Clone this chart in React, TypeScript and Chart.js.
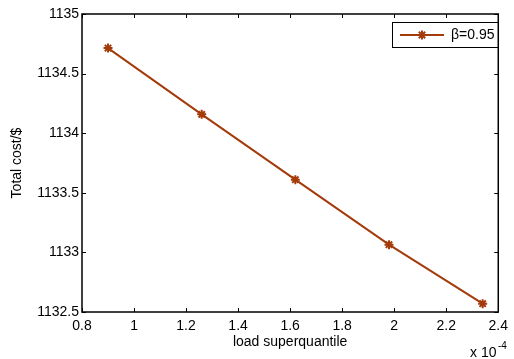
import React, { useEffect, useRef } from "react";
import { Chart, registerables } from "chart.js";

Chart.register(...registerables);

const loadSuperquantile = [0.9, 1.26, 1.62, 1.98, 2.34]; // ×1e-4
const totalCost = [1134.714, 1134.158, 1133.61, 1133.065, 1132.57];
const seriesLabel = "β=0.95";
const xTicks = [0.8, 1, 1.2, 1.4, 1.6, 1.8, 2, 2.2, 2.4];
const yTicks = [1132.5, 1133, 1133.5, 1134, 1134.5, 1135];
const xTitle = "load superquantile";
const yTitle = "Total cost/$";

const COLOR = "#A33B0B";
const FONT = "'Liberation Sans', Arial, sans-serif";

export default function App() {
  const ref = useRef<HTMLCanvasElement | null>(null);
  useEffect(() => {
    document.body.style.margin = "0";
    const canvas = ref.current!;
    function drawStar(ctx: CanvasRenderingContext2D, x: number, y: number, r: number) {
      ctx.save();
      ctx.strokeStyle = COLOR;
      ctx.lineWidth = 2;
      ctx.beginPath();
      for (let i = 0; i < 4; i++) {
        const ang = (i * Math.PI) / 4;
        ctx.moveTo(x - r * Math.cos(ang), y - r * Math.sin(ang));
        ctx.lineTo(x + r * Math.cos(ang), y + r * Math.sin(ang));
      }
      ctx.stroke();
      ctx.restore();
    }
    const framePlugin = {
      id: "frame",
      afterDraw(chart: any) {
        const { ctx, chartArea: a, scales } = chart;
        const xs = scales.x, ys = scales.y;
        ctx.save();
        ctx.strokeStyle = "#000";
        ctx.lineWidth = 1;
        const L = 4;
        ctx.beginPath();
        for (const v of xTicks) {
          const px = Math.round(xs.getPixelForValue(v)) + 0.5;
          ctx.moveTo(px, a.bottom);
          ctx.lineTo(px, a.bottom - L);
          ctx.moveTo(px, a.top);
          ctx.lineTo(px, a.top + L);
        }
        for (const v of yTicks) {
          const py = Math.round(ys.getPixelForValue(v)) + 0.5;
          ctx.moveTo(a.left, py);
          ctx.lineTo(a.left + L, py);
          ctx.moveTo(a.right, py);
          ctx.lineTo(a.right - L, py);
        }
        ctx.stroke();
        ctx.lineWidth = 1.5;
        ctx.strokeRect(a.left, a.top, a.right - a.left, a.bottom - a.top);

        // legend
        ctx.lineWidth = 1;
        ctx.strokeRect(392.5, 22.5, 106, 25);
        ctx.strokeStyle = COLOR;
        ctx.lineWidth = 2;
        ctx.beginPath();
        ctx.moveTo(400, 35);
        ctx.lineTo(444, 35);
        ctx.stroke();
        drawStar(ctx, 422, 35, 4.5);
        ctx.fillStyle = "#000";
        ctx.font = `14px ${FONT}`;
        ctx.textBaseline = "middle";
        ctx.textAlign = "left";
        ctx.fillText(seriesLabel, 451, 35);

        // exponent
        ctx.font = `14px ${FONT}`;
        ctx.textBaseline = "alphabetic";
        ctx.fillText("x 10", 470, 357);
        ctx.font = `10px ${FONT}`;
        ctx.fillText("-4", 498, 349);
        ctx.restore();
      },
    };
    const chart = new Chart(canvas, {
      type: "line",
      data: {
        datasets: [
          {
            label: seriesLabel,
            data: loadSuperquantile.map((x, i) => ({ x, y: totalCost[i] })),
            borderColor: COLOR,
            backgroundColor: COLOR,
            borderWidth: 2,
            pointStyle: "star",
            pointRadius: 4.5,
            pointBorderWidth: 2,
            tension: 0,
          },
        ],
      },
      options: {
        animation: false,
        responsive: false,
        devicePixelRatio: 1,
        layout: { padding: { left: 0, top: 14, right: 9, bottom: 0 } },
        plugins: { legend: { display: false }, tooltip: { enabled: false } },
        scales: {
          x: {
            type: "linear",
            min: 0.8,
            max: 2.4,
            afterBuildTicks: (s: any) => {
              s.ticks = xTicks.map((v) => ({ value: v }));
            },
            afterFit: (s: any) => {
              s.height = 47;
            },
            grid: { display: false, drawTicks: false },
            border: { display: false },
            ticks: {
              color: "#000",
              font: { family: FONT, size: 14 },
              padding: 6,
              maxRotation: 0,
              autoSkip: false,
              callback: (v: any) => String(Number(Number(v).toFixed(1))),
            },
            title: {
              display: true,
              text: xTitle,
              color: "#000",
              font: { family: FONT, size: 14 },
              padding: { top: 2, bottom: 8 },
            },
          },
          y: {
            type: "linear",
            min: 1132.5,
            max: 1135,
            afterBuildTicks: (s: any) => {
              s.ticks = yTicks.map((v) => ({ value: v }));
            },
            afterFit: (s: any) => {
              s.width = 82;
            },
            grid: { display: false, drawTicks: false },
            border: { display: false },
            ticks: {
              color: "#000",
              font: { family: FONT, size: 14 },
              padding: 3,
              autoSkip: false,
              callback: (v: any) => String(Number(Number(v).toFixed(1))),
            },
            title: {
              display: true,
              text: yTitle,
              color: "#000",
              font: { family: FONT, size: 14 },
              padding: { top: 9, bottom: 0 },
            },
          },
        },
      },
      plugins: [framePlugin],
    } as any);
    return () => chart.destroy();
  }, []);
  return <canvas ref={ref} width={514} height={359} style={{ display: "block" }} />;
}
